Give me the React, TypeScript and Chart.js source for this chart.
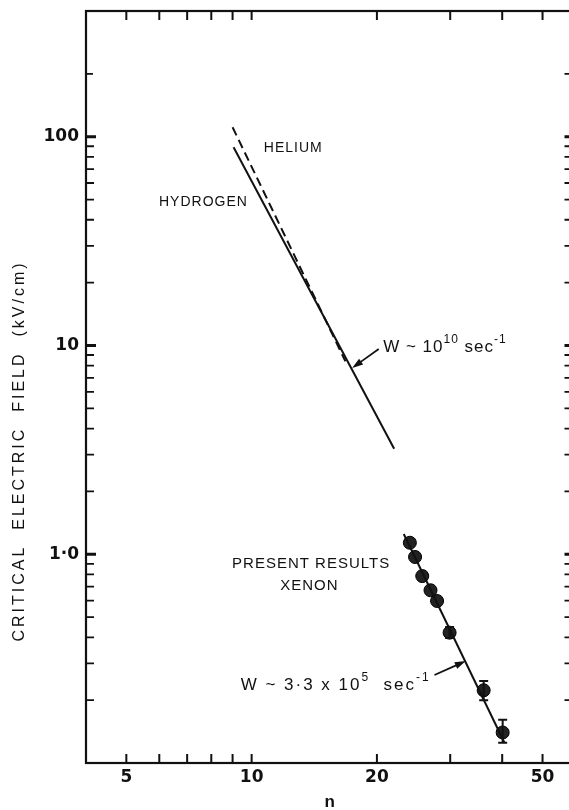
import React, { useEffect, useRef } from "react";
import { Chart, registerables } from "chart.js";

Chart.register(...registerables);

// ---------- data ----------
const X_TICKS = [5, 6, 7, 8, 9, 10, 20, 30, 40, 50];
const X_TICK_LABELS: Record<string, string> = { "5": "5", "10": "10", "20": "20", "50": "50" };
const Y_TICKS = [0.2, 0.3, 0.4, 0.5, 0.6, 0.7, 0.8, 0.9, 1, 2, 3, 4, 5, 6, 7, 8, 9, 10, 20, 30, 40, 50, 60, 70, 80, 90, 100, 200];
const Y_TICK_LABELS: Record<string, string> = { "1": "1·0", "10": "10", "100": "100" };
const Y_MAJOR = [1, 10, 100];

const HYDROGEN_N = [9.05, 22.0];
const HYDROGEN_F = [89, 3.2];
const HELIUM_N = [9.0, 16.8];
const HELIUM_F = [111, 8.4];

const XENON_N = [24.0, 24.7, 25.7, 26.9, 27.9, 29.9, 36.1, 40.1];
const XENON_F = [1.135, 0.97, 0.786, 0.672, 0.597, 0.421, 0.223, 0.14];
const XENON_ERR_LOW = [null, null, null, null, null, 0.397, 0.2, 0.125];
const XENON_ERR_HIGH = [null, null, null, null, null, 0.448, 0.247, 0.161];
const XENON_FIT_N = [23.2, 40.5];
const XENON_FIT_F = [1.25, 0.125];

const X_MIN = 4;
const X_MAX = 60;
const Y_MIN = 0.1;
const Y_MAX = 400;

const FONT = "'Liberation Sans', Arial, Helvetica, sans-serif";
const TICK_FONT = "'DejaVu Sans', 'Liberation Sans', sans-serif";
const INK = "#111";

type Run = { t: string; size: number; rise?: number; bold?: boolean };

function setSpacing(ctx: CanvasRenderingContext2D, px: number) {
  (ctx as any).letterSpacing = px + "px";
}

function drawRuns(ctx: CanvasRenderingContext2D, x: number, baseline: number, runs: Run[], spacing: number) {
  let cx = x;
  for (const r of runs) {
    ctx.font = `${r.bold ? "bold " : ""}${r.size}px ${FONT}`;
    setSpacing(ctx, spacing);
    ctx.textAlign = "left";
    ctx.textBaseline = "alphabetic";
    ctx.fillText(r.t, cx, baseline - (r.rise || 0));
    cx += ctx.measureText(r.t).width;
  }
}

function drawArrow(ctx: CanvasRenderingContext2D, x1: number, y1: number, x2: number, y2: number) {
  const ang = Math.atan2(y2 - y1, x2 - x1);
  const head = 11;
  const half = 3.5;
  ctx.beginPath();
  ctx.moveTo(x1, y1);
  ctx.lineTo(x2 - Math.cos(ang) * head * 0.8, y2 - Math.sin(ang) * head * 0.8);
  ctx.lineWidth = 1.8;
  ctx.strokeStyle = INK;
  ctx.stroke();
  ctx.beginPath();
  ctx.moveTo(x2, y2);
  ctx.lineTo(x2 - Math.cos(ang) * head - Math.sin(ang) * half, y2 - Math.sin(ang) * head + Math.cos(ang) * half);
  ctx.lineTo(x2 - Math.cos(ang) * head + Math.sin(ang) * half, y2 - Math.sin(ang) * head - Math.cos(ang) * half);
  ctx.closePath();
  ctx.fillStyle = INK;
  ctx.fill();
}

const framePlugin = {
  id: "frameAndTicks",
  afterDraw(chart: any) {
    const ctx: CanvasRenderingContext2D = chart.ctx;
    const xs = chart.scales.x;
    const ys = chart.scales.y;
    const { left, right, top, bottom } = chart.chartArea;
    ctx.save();
    ctx.strokeStyle = INK;
    ctx.lineWidth = 2.2;
    ctx.strokeRect(left, top, right - left, bottom - top);

    ctx.lineWidth = 2;
    for (const v of X_TICKS) {
      const px = xs.getPixelForValue(v);
      ctx.beginPath();
      ctx.moveTo(px, bottom);
      ctx.lineTo(px, bottom - 9);
      ctx.moveTo(px, top);
      ctx.lineTo(px, top + 9);
      ctx.stroke();
    }
    for (const v of Y_TICKS) {
      const py = ys.getPixelForValue(v);
      const major = Y_MAJOR.includes(v);
      const len = major ? 10 : v > 100 ? 7 : 8;
      ctx.lineWidth = major ? 3 : 1.8;
      ctx.beginPath();
      ctx.moveTo(left, py);
      ctx.lineTo(left + len, py);
      ctx.moveTo(right, py);
      ctx.lineTo(right - 11, py);
      ctx.stroke();
    }

    // axis titles
    ctx.fillStyle = INK;
    ctx.save();
    ctx.translate(20, (top + bottom) / 2 + 64);
    ctx.rotate(-Math.PI / 2);
    ctx.font = `16px ${FONT}`;
    setSpacing(ctx, 3);
    ctx.textAlign = "center";
    ctx.textBaseline = "middle";
    ctx.fillText("CRITICAL  ELECTRIC  FIELD  (kV/cm)", 0, 0);
    ctx.restore();

    ctx.font = `bold 17px ${FONT}`;
    setSpacing(ctx, 0);
    ctx.textAlign = "center";
    ctx.textBaseline = "middle";
    ctx.fillText("n", xs.getPixelForValue(15.4), bottom + 39);
    ctx.restore();
  },
};

const annotationPlugin = {
  id: "annotations",
  afterDatasetsDraw(chart: any) {
    const ctx: CanvasRenderingContext2D = chart.ctx;
    const xs = chart.scales.x;
    const ys = chart.scales.y;
    const X = (v: number) => xs.getPixelForValue(v);
    const Y = (v: number) => ys.getPixelForValue(v);
    ctx.save();
    ctx.fillStyle = INK;
    ctx.strokeStyle = INK;

    // error bars
    ctx.lineWidth = 2;
    XENON_N.forEach((n, i) => {
      const lo = XENON_ERR_LOW[i];
      const hi = XENON_ERR_HIGH[i];
      if (lo == null || hi == null) return;
      const px = X(n);
      const y1 = Y(hi);
      const y2 = Y(lo);
      ctx.beginPath();
      ctx.moveTo(px, y1);
      ctx.lineTo(px, y2);
      ctx.moveTo(px - 4.5, y1);
      ctx.lineTo(px + 4.5, y1);
      ctx.moveTo(px - 4.5, y2);
      ctx.lineTo(px + 4.5, y2);
      ctx.stroke();
    });

    // curve labels
    ctx.font = `14px ${FONT}`;
    setSpacing(ctx, 1);
    ctx.textAlign = "left";
    ctx.textBaseline = "middle";
    ctx.fillText("HELIUM", X(10.7), Y(88.2));
    ctx.fillText("HYDROGEN", X(5.99), Y(48.6));

    ctx.font = `15px ${FONT}`;
    setSpacing(ctx, 1);
    ctx.textAlign = "center";
    ctx.fillText("PRESENT RESULTS", X(13.9), Y(0.898));
    ctx.fillText("XENON", X(13.77), Y(0.704));

    // W ~ 10^10 sec^-1
    drawRuns(ctx, X(20.7), Y(9.94) + 6, [
      { t: "W ~ 10", size: 17 },
      { t: "10", size: 12, rise: 9 },
      { t: " sec", size: 17 },
      { t: "-1", size: 12, rise: 9 },
    ], 1);
    drawArrow(ctx, X(20.2), Y(9.62), X(17.44), Y(7.8));

    // W ~ 3.3 x 10^5 sec^-1
    drawRuns(ctx, X(9.41), Y(0.239) + 6, [
      { t: "W ~ 3·3 x 10", size: 17 },
      { t: "5", size: 12, rise: 9 },
      { t: "  sec", size: 17 },
      { t: "-1", size: 12, rise: 9 },
    ], 2);
    drawArrow(ctx, X(27.5), Y(0.264), X(32.7), Y(0.308));

    ctx.restore();
  },
};

export default function App() {
  const ref = useRef<HTMLCanvasElement | null>(null);

  useEffect(() => {
    if (!ref.current) return;
    const pts = (xs: number[], ys: number[]) => xs.map((x, i) => ({ x, y: ys[i] }));
    const chart = new Chart(ref.current, {
      type: "scatter",
      data: {
        datasets: [
          {
            label: "Hydrogen",
            data: pts(HYDROGEN_N, HYDROGEN_F),
            showLine: true,
            borderColor: INK,
            borderWidth: 2,
            pointRadius: 0,
          },
          {
            label: "Helium",
            data: pts(HELIUM_N, HELIUM_F),
            showLine: true,
            borderColor: INK,
            borderWidth: 2,
            borderDash: [9, 5],
            pointRadius: 0,
          },
          {
            label: "Xenon fit",
            data: pts(XENON_FIT_N, XENON_FIT_F),
            showLine: true,
            borderColor: INK,
            borderWidth: 2,
            pointRadius: 0,
          },
          {
            label: "Xenon (present results)",
            data: pts(XENON_N, XENON_F),
            showLine: false,
            pointRadius: 6.5,
            pointBackgroundColor: "#222",
            pointBorderColor: "#000",
            pointBorderWidth: 1,
          },
        ],
      },
      options: {
        animation: false,
        responsive: false,
        devicePixelRatio: 1,
        layout: { padding: { top: 11, right: 2, left: 0, bottom: 0 } },
        plugins: { legend: { display: false }, tooltip: { enabled: false } },
        scales: {
          x: {
            type: "logarithmic",
            position: "bottom",
            min: X_MIN,
            max: X_MAX,
            afterBuildTicks: (s: any) => {
              s.ticks = X_TICKS.map((v) => ({ value: v }));
            },
            afterFit: (s: any) => {
              s.height = 47;
              s.paddingLeft = 0;
              s.paddingRight = 0;
              s.paddingTop = 0;
              s.paddingBottom = 0;
            },
            grid: { display: false, drawTicks: false },
            border: { display: false },
            ticks: {
              autoSkip: false,
              maxRotation: 0,
              padding: 4,
              color: INK,
              font: { family: TICK_FONT, size: 17, weight: "bold" },
              callback: (v: any) => X_TICK_LABELS[String(v)] ?? "",
            },
          },
          y: {
            type: "logarithmic",
            position: "left",
            min: Y_MIN,
            max: Y_MAX,
            afterBuildTicks: (s: any) => {
              s.ticks = Y_TICKS.map((v) => ({ value: v }));
            },
            afterFit: (s: any) => {
              s.width = 86;
              s.paddingLeft = 0;
              s.paddingRight = 0;
              s.paddingTop = 0;
              s.paddingBottom = 0;
            },
            grid: { display: false, drawTicks: false },
            border: { display: false },
            ticks: {
              autoSkip: false,
              padding: 7,
              color: INK,
              font: { family: TICK_FONT, size: 17, weight: "bold" },
              callback: (v: any) => Y_TICK_LABELS[String(v)] ?? "",
            },
          },
        },
      } as any,
      plugins: [framePlugin, annotationPlugin],
    });
    return () => chart.destroy();
  }, []);

  return (
    <div
      style={{
        position: "fixed",
        left: 0,
        top: 0,
        width: 569,
        height: 810,
        overflow: "hidden",
        background: "#fff",
      }}
    >
      <canvas ref={ref} width={583} height={810} style={{ width: 583, height: 810, display: "block" }} />
    </div>
  );
}
